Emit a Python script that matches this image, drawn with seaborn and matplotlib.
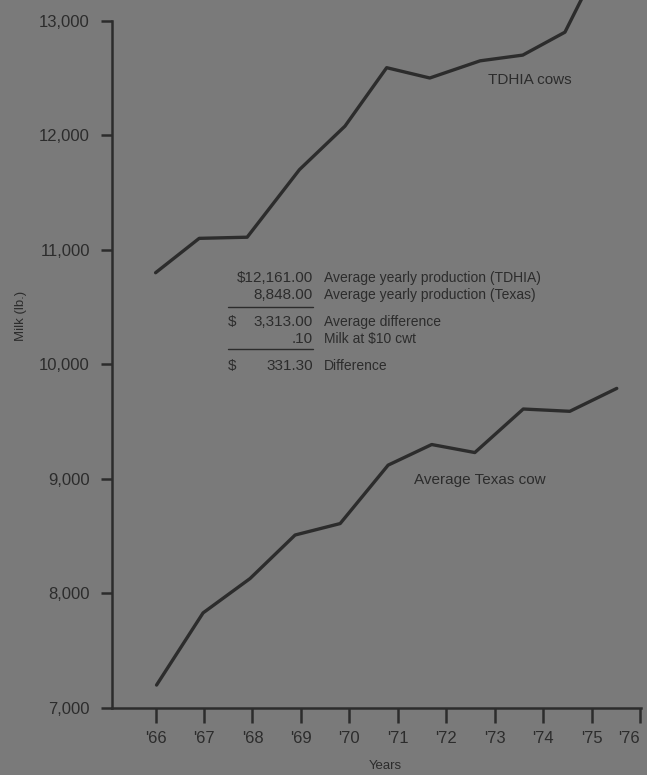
import pandas as pd
import seaborn as sns
import matplotlib.pyplot as plt

# --- data ---
year_ticks = [1966, 1967, 1968, 1969, 1970, 1971, 1972, 1973, 1974, 1975, 1976]
year_labels = ["'66", "'67", "'68", "'69", "'70", "'71", "'72", "'73", "'74", "'75", "'76"]
milk_ticks = [7000, 8000, 9000, 10000, 11000, 12000, 13000]

tdhia_x = [1966.0, 1966.9, 1967.89, 1968.97, 1969.91, 1970.77, 1971.66, 1972.7, 1973.58, 1974.45, 1975.4]
tdhia_y = [10800, 11100, 11110, 11700, 12080, 12590, 12500, 12650, 12700, 12900, 13700]

texas_x = [1966.02, 1966.98, 1967.95, 1968.88, 1969.81, 1970.8, 1971.7, 1972.59, 1973.59, 1974.55, 1975.52]
texas_y = [7200, 7830, 8130, 8510, 8610, 9120, 9300, 9230, 9610, 9590, 9790]

table_dollar = ['', '', '$', '', '$']
table_nums = ['$12,161.00', '8,848.00', '3,313.00', '.10', '331.30']
table_text = ['Average yearly production (TDHIA)', 'Average yearly production (Texas)',
              'Average difference', 'Milk at $10 cwt', 'Difference']

df = pd.concat([
    pd.DataFrame({'year': tdhia_x, 'milk': tdhia_y, 'herd': 'TDHIA cows'}),
    pd.DataFrame({'year': texas_x, 'milk': texas_y, 'herd': 'Average Texas cow'}),
])

bg = '#7a7a7a'
ink = '#2c2c2c'

sns.set_style('ticks')
plt.rcParams['font.family'] = ['Liberation Sans', 'DejaVu Sans']

fig = plt.figure(figsize=(6.47, 7.75), dpi=100, facecolor=bg)
ax = fig.add_axes([0.1731, 0.0865, 0.8176, 0.9135])
ax.set_facecolor(bg)

sns.lineplot(data=df, x='year', y='milk', units='herd', estimator=None, sort=False,
             color=ink, linewidth=2.4, legend=False, ax=ax)

ax.set_xlim(1965.1, 1976.02)
ax.set_ylim(7000, 13181)

sns.despine(ax=ax)
for s in ['left', 'bottom']:
    ax.spines[s].set_color(ink)
    ax.spines[s].set_linewidth(1.8)
ax.spines['left'].set_bounds(7000, 13000)

ax.set_xticks(year_ticks)
ax.set_xticklabels(year_labels)
ax.set_yticks(milk_ticks)
ax.set_yticklabels([f'{v:,}' for v in milk_ticks])
ax.tick_params(axis='x', length=10.8, width=1.8, color=ink, labelcolor=ink,
               labelsize=12, pad=6, direction='out')
ax.tick_params(axis='y', length=8, width=1.8, color=ink, labelcolor=ink,
               labelsize=12, pad=8, direction='out')
# last label sits against the right edge
ax.get_xticklabels()[-1].set_horizontalalignment('right')

ax.set_xlabel('Years', color=ink, fontsize=9.5)
ax.xaxis.set_label_coords(0.516, -0.074)
ax.set_ylabel('Milk (lb.)', color=ink, fontsize=9.5)
ax.yaxis.set_label_coords(-0.161, 0.554)

# series labels
ax.text(1973.73, 12482, 'TDHIA cows', color=ink, fontsize=11, ha='center', va='center')
ax.text(1972.70, 8990, 'Average Texas cow', color=ink, fontsize=11, ha='center', va='center')

# summary table
rows_y = [10754, 10605, 10370, 10221, 9986]
for yy, dol, num, txt in zip(rows_y, table_dollar, table_nums, table_text):
    ax.text(1967.49, yy, dol, color=ink, fontsize=11, ha='left', va='center')
    ax.text(1969.25, yy, num, color=ink, fontsize=11, ha='right', va='center')
    ax.text(1969.48, yy, txt, color=ink, fontsize=10, ha='left', va='center')
for yy in [10501, 10134]:
    ax.plot([1967.49, 1969.25], [yy, yy], color=ink, linewidth=1.0)

fig.savefig('out.png', dpi=100, facecolor=bg)
